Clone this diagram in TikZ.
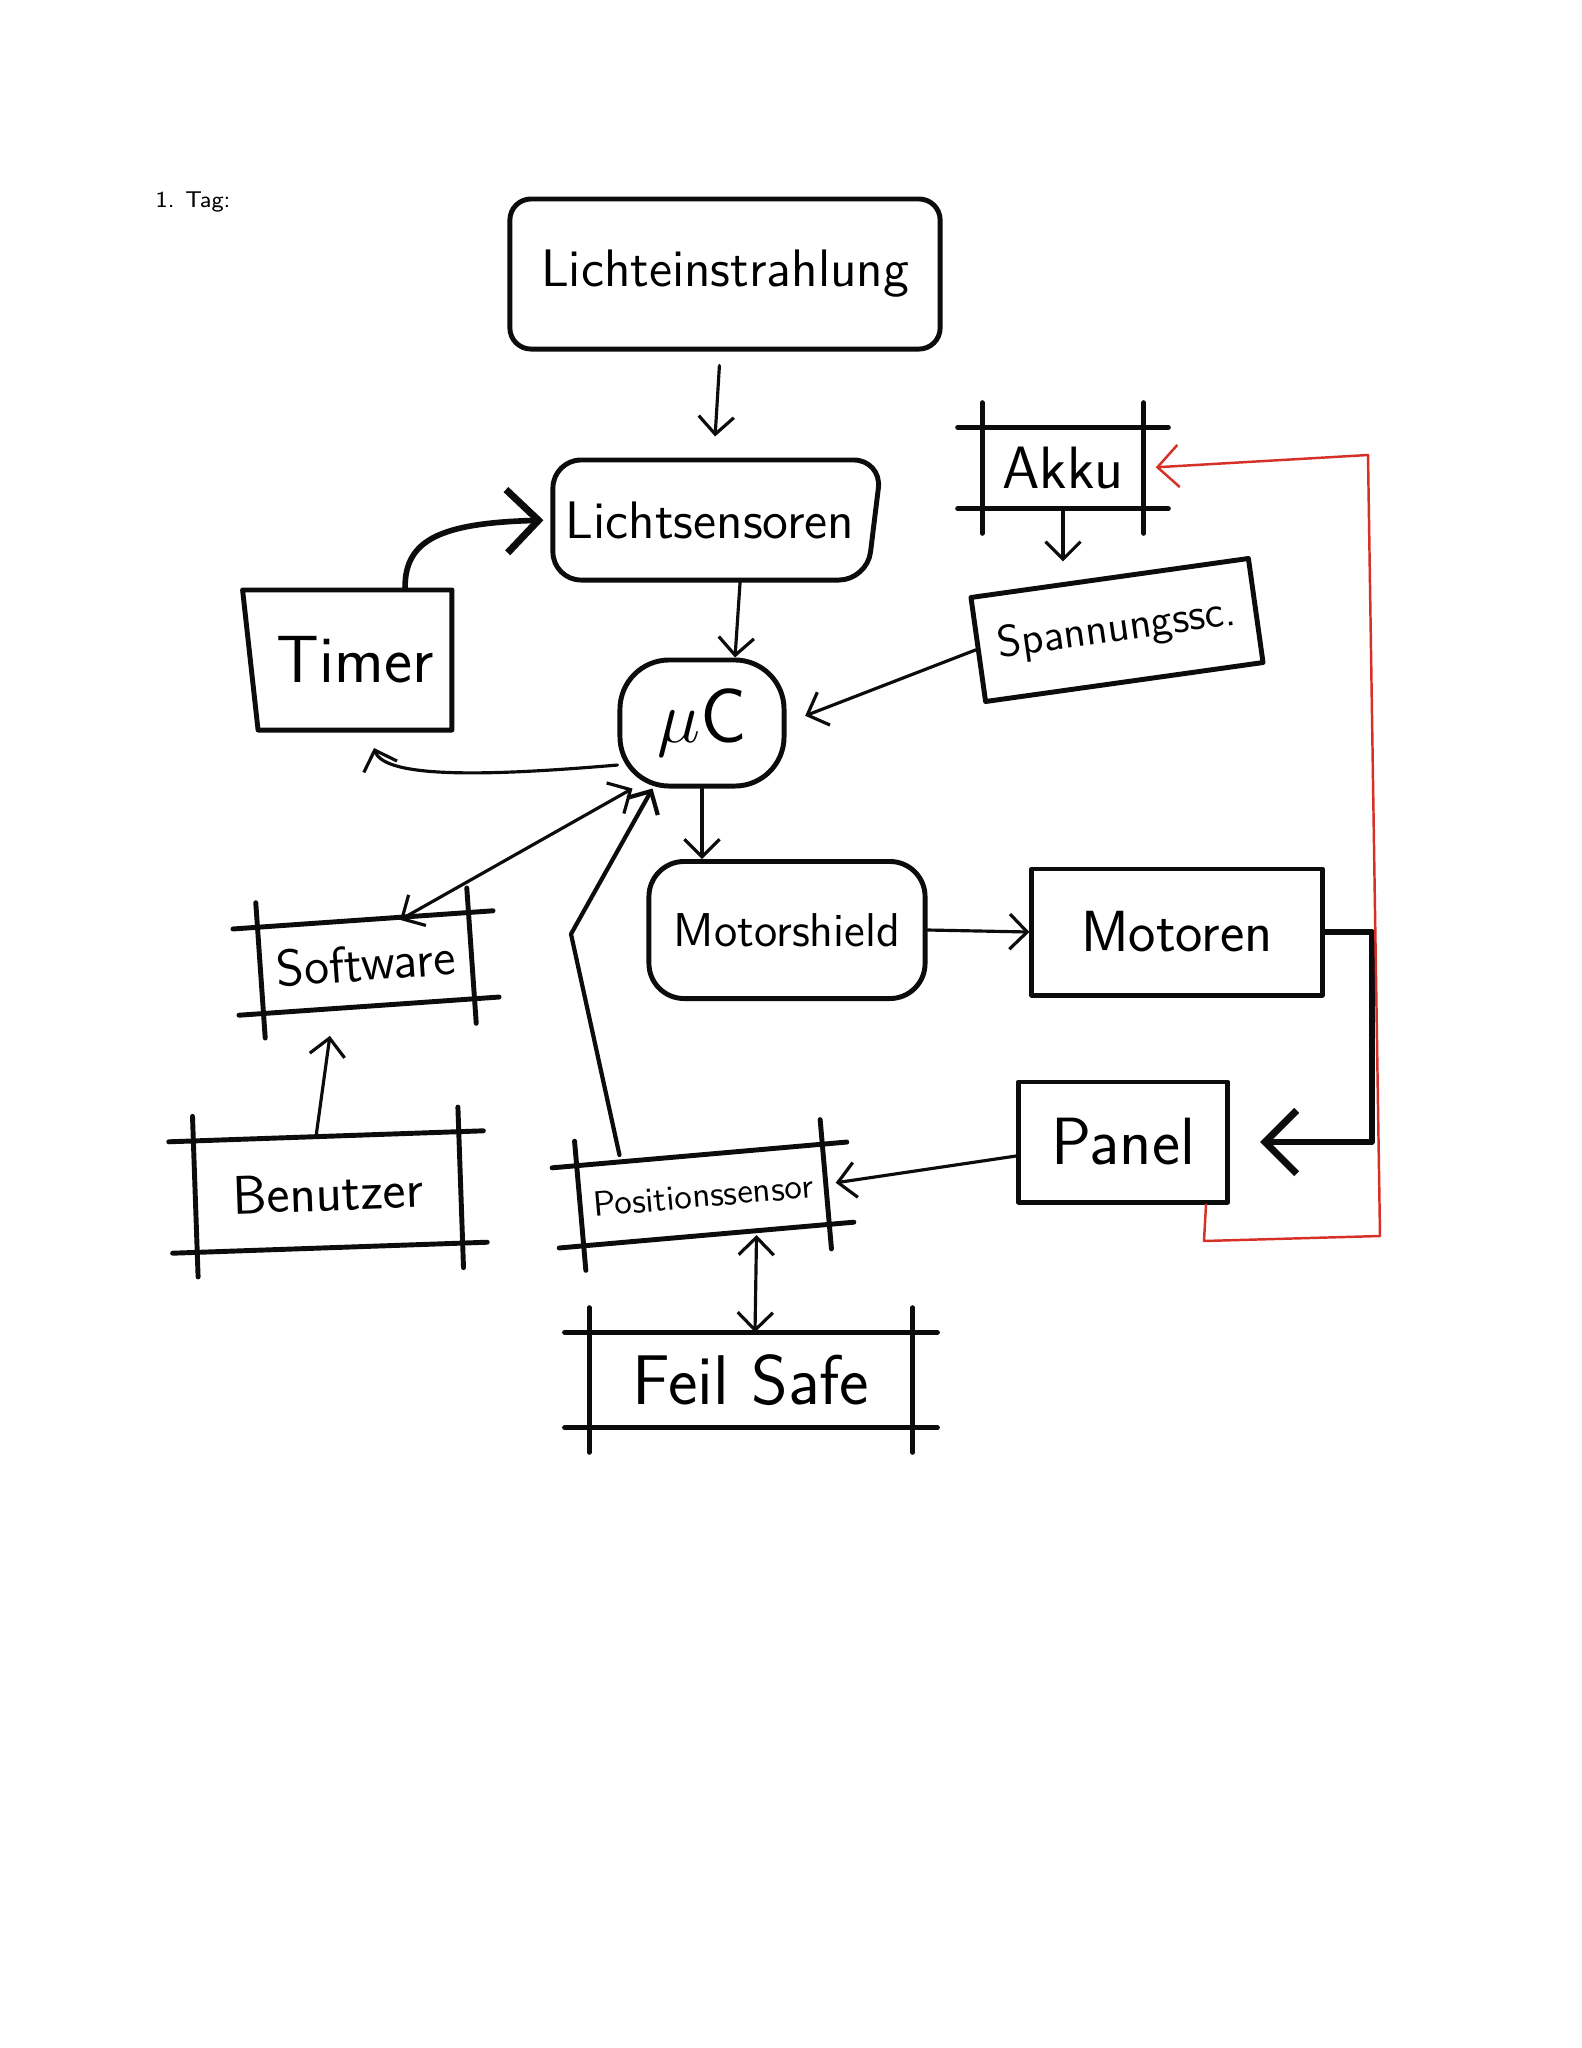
\documentclass[tikz,border=0pt]{standalone}
\usetikzlibrary{arrows.meta,shapes.geometric}
\definecolor{ink}{RGB}{12,12,12}
\definecolor{redline}{RGB}{214,48,39}
\tikzset{box/.style={draw=ink,line width=1.4pt,inner sep=0pt},
 rim/.style={draw=ink,line width=1.4pt,shorten <=-7pt,shorten >=-7pt},
 conn/.style={draw=ink,line width=.9pt,-{Straight Barb[length=5pt,width=10pt]}},
 bigconn/.style={draw=ink,line width=1.6pt,-{Straight Barb[length=9pt,width=18pt,line width=2pt]}},
 hw/.style={font=\sffamily\fontsize{#1}{#1}\selectfont},
 every picture/.style={line join=round,line cap=round}}
\newcommand{\rimbox}[1]{%
 \draw[rim] (#1.north west) -- (#1.north east);
 \draw[rim] (#1.south west) -- (#1.south east);
 \draw[rim] (#1.north west) -- (#1.south west);
 \draw[rim] (#1.north east) -- (#1.south east);}

\begin{document}
\begin{tikzpicture}[x=0.01cm,y=-0.01cm]
\fill[white] (0,0) rectangle (1582,2048);
\useasboundingbox (0,0) rectangle (1582,2048);
\node[hw=6.5pt] (tag) at (193,202) {1. Tag:};
\node[box,rounded corners=6pt,minimum width=4.3cm,minimum height=1.5cm,hw=15pt] (licht) at (725,274) {Lichteinstrahlung};
\node[box,trapezium,trapezium left angle=90,trapezium right angle=110,trapezium stretches=true,rounded corners=8pt,minimum width=3.3cm,minimum height=1.2cm,hw=15pt] (sens) at (710,520) {Lichtsensoren};
\node[minimum width=1.6cm,minimum height=0.8cm,hw=17pt] (akku) at (1063,468) {Akku};
\rimbox{akku}
\node[box,rotate=8,minimum width=2.8cm,minimum height=1.05cm,hw=12.5pt] (spann) at (1117,630) {Spannungssc.};
\node[box,trapezium,trapezium left angle=105,trapezium right angle=90,trapezium stretches=true,minimum width=2.1cm,minimum height=1.4cm,hw=19pt] (timer) at (355,660) {Timer};
\node[box,rounded corners=14pt,minimum width=1.64cm,minimum height=1.26cm,hw=22pt] (uc) at (702,723) {$\mu$C};
\node[rotate=4,minimum width=2.1cm,minimum height=0.85cm,hw=14.5pt] (sw) at (366,963) {Software};
\rimbox{sw}
\node[box,rounded corners=10pt,minimum width=2.76cm,minimum height=1.37cm,hw=13.5pt] (ms) at (787,930) {Motorshield};
\node[box,minimum width=2.9cm,minimum height=1.26cm,hw=16.5pt] (mot) at (1177,932) {Motoren};
\node[box,minimum width=2.09cm,minimum height=1.2cm,hw=19pt] (panel) at (1123,1142) {Panel};
\node[rotate=2,minimum width=2.64cm,minimum height=1.1cm,hw=15.5pt] (ben) at (328,1192) {Benutzer};
\rimbox{ben}
\node[rotate=5,minimum width=2.45cm,minimum height=0.79cm,hw=10pt] (pos) at (703,1195) {Positionssensor};
\rimbox{pos}
\node[minimum width=3.22cm,minimum height=0.94cm,hw=20pt] (fs) at (751,1380) {Feil Safe};
\rimbox{fs}
\coordinate (tback) at (374,748);
\coordinate (posbend) at (571,934);
\coordinate (mright) at (1372,1000);
\coordinate (r1) at (1204,1241);
\coordinate (r2) at (1380,1236);
\coordinate (r3) at (1368,455);
\draw[conn,shorten <=4pt,shorten >=6pt] (licht) -- (sens);
\draw[conn,shorten >=4pt] (akku.south) -- (akku.south |- spann.north);
\draw[bigconn,shorten >=2pt] ([xshift=0.5cm]timer.north) .. controls (405,540) and (440,523) .. (sens.west);
\draw[conn] ([xshift=0.3cm]sens.south) -- ([xshift=0.33cm]uc.north);
\draw[conn,shorten >=0.2cm] (spann.west) -- (uc.east);
\draw[conn] ([yshift=-0.42cm]uc.west) .. controls (500,775) and (385,780) .. (tback);
\draw[conn,{Straight Barb[length=5pt,width=10pt]}-{Straight Barb[length=5pt,width=10pt]}] ([xshift=0.37cm]sw.north) -- ([xshift=0.15cm]uc.south west);
\draw[conn,line width=1.2pt] ([xshift=-0.8cm]pos.north) -- (posbend) -- ([xshift=0.35cm]uc.south west);
\draw[conn] (uc.south) -- (uc.south |- ms.north);
\draw[conn] (ms.east) -- (mot.west);
\draw[bigconn,shorten >=0.3cm] (mot.east) -| (mright) |- (panel.east);
\draw[conn,shorten >=0.1cm] ([yshift=-0.14cm]panel.west) -- (pos.east);
\draw[conn,{Straight Barb[length=5pt,width=10pt]}-{Straight Barb[length=5pt,width=10pt]}] ([xshift=0.5cm]pos.south) -- ([xshift=0.04cm]fs.north);
\draw[conn,shorten >=0.3cm] ([xshift=-0.1cm]ben.north) -- ([xshift=-0.35cm]sw.south);
\draw[draw=redline,line width=.7pt,-{Straight Barb[length=6pt,width=12pt]},shorten >=0.12cm] ([xshift=-0.24cm]panel.south east) -- (r1) -- (r2) -- (r3) -- (akku.east);
\end{tikzpicture}
\end{document}
